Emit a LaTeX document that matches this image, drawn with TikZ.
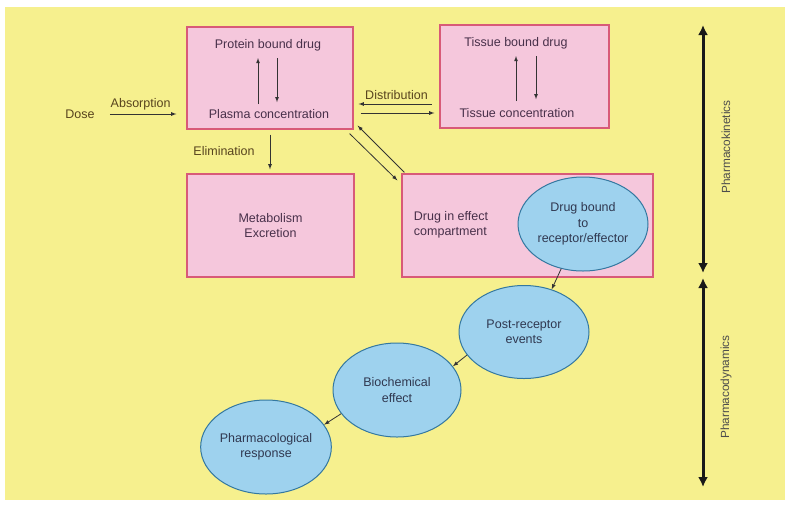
\documentclass[tikz,border=0pt]{standalone}
\usepackage{fontspec}
\setmainfont{Liberation Sans}
\usetikzlibrary{arrows, arrows.meta, shapes.geometric}

\definecolor{bgyellow}{RGB}{246,240,142}
\definecolor{boxpink}{RGB}{245,199,220}
\definecolor{boxedge}{RGB}{216,90,120}
\definecolor{cellblue}{RGB}{158,210,238}
\definecolor{celledge}{RGB}{52,120,160}
\definecolor{boxtext}{RGB}{72,48,74}
\definecolor{celltext}{RGB}{48,56,80}
\definecolor{flowtext}{RGB}{88,68,30}

\begin{document}
\begin{tikzpicture}[x=1pt, y=-1pt, >=latex,
    every node/.style={font=\fontsize{12.5}{15.5}\selectfont},
    compartment/.style={rectangle, draw=boxedge, line width=1.2pt, fill=boxpink, inner sep=0pt, align=center, text=boxtext},
    cell/.style={ellipse, draw=celledge, line width=1pt, fill=cellblue, inner sep=0pt, minimum width=130pt, minimum height=94pt, align=center, text=celltext},
    word/.style={inner sep=0pt, text=boxtext},
    flowlabel/.style={inner sep=0pt, text=flowtext},
    flow/.style={->, draw=black!80, line width=0.8pt},
    phase/.style={inner sep=0pt, rotate=90, text=black!70, font=\fontsize{11.8}{14}\selectfont},
    axis/.style={{Latex[length=10pt,width=10pt]}-{Latex[length=10pt,width=10pt]}, draw=black!90, line width=3pt}]

\useasboundingbox (0,0) rectangle (789,507);
\fill[white] (0,0) rectangle (789,507);
\fill[bgyellow] (5,7) rectangle (785,500);

% compartments
\node[compartment, minimum width=166pt, minimum height=102pt] (plasmabox) at (270,78) {};
\node[compartment, minimum width=169pt, minimum height=103pt] (tissuebox) at (524.5,76.5) {};
\node[compartment, minimum width=167pt, minimum height=103pt] (metabox) at (270.5,225.5) {Metabolism\\Excretion};
\node[compartment, minimum width=251pt, minimum height=103pt] (effectbox) at (527.5,225.5) {};

\node[word] (pbd) at (268,45) {Protein bound drug};
\node[word] (plasma) at (269,114) {Plasma concentration};
\node[word] (tbd) at (516,43) {Tissue bound drug};
\node[word] (tconc) at (517,113) {Tissue concentration};
\node[word, align=left] (effect) at (451,225) {Drug in effect\\compartment};

% receptor chain
\node[cell] (receptor) at (583,224) {Drug bound\\to\\receptor/effector};
\node[cell, minimum height=93pt] (postrec) at (524,332) {Post-receptor\\events};
\node[cell, minimum width=128pt] (biochem) at (397,390) {Biochemical\\effect};
\node[cell, minimum width=128pt] (response) at (266,447) {Pharmacological\\response};

\node[flowlabel] (dose) at (80,114) {Dose};

\draw[flow, shorten <=15pt, shorten >=10pt] (dose.east) -- (dose.east -| plasmabox.west)
    node[flowlabel, midway, above=4pt] {Absorption};
\draw[flow, <-, shorten <=5pt, shorten >=7pt] ([yshift=-26pt]plasmabox.east) -- ([yshift=-26pt]plasmabox.east -| tissuebox.west)
    node[flowlabel, midway, above=4pt] {Distribution};
\draw[flow, shorten <=7pt, shorten >=5pt] ([yshift=-35pt]plasmabox.east) -- ([yshift=-35pt]plasmabox.east -| tissuebox.west);
\draw[flow, shorten <=5pt, shorten >=4pt] (plasmabox.south) -- (plasmabox.south |- metabox.north)
    node[flowlabel, midway, left=15pt] {Elimination};

% binding inside the boxes
\draw[flow, shorten <=5pt, shorten >=7pt] ([xshift=-11pt]plasma.north) -- ([xshift=-11pt]plasma.north |- pbd.south);
\draw[flow, shorten <=7pt, shorten >=7pt] ([xshift=8pt]plasma.north |- pbd.south) -- ([xshift=8pt]plasma.north);
\draw[flow, shorten <=7pt, shorten >=7pt] ([xshift=-1pt]tconc.north) -- ([xshift=-1pt]tconc.north |- tbd.south);
\draw[flow, shorten <=7pt, shorten >=9pt] ([xshift=19pt]tconc.north |- tbd.south) -- ([xshift=19pt]tconc.north);

\draw[flow] ([xshift=-4pt,yshift=-4pt]plasmabox.south east) -- ([xshift=-4pt,yshift=-7pt]effectbox.north west);
\draw[flow] ([xshift=3pt,yshift=1pt]effectbox.north west) -- ([xshift=4pt,yshift=4pt]plasmabox.south east);

\draw[flow] (receptor.244) -- (postrec.57);
\draw[flow] (postrec.202) -- (biochem.23);
\draw[flow] (biochem.203) -- (response.21);

% phases
\coordinate (pktop) at (703,25);
\coordinate (pkbot) at (703,273);
\coordinate (pdtop) at (703,278);
\coordinate (pdbot) at (703,487);
\draw[axis] (pktop) -- (pkbot);
\draw[axis] (pdtop) -- (pdbot);
\node[phase] (pk) at (726,147) {Pharmacokinetics};
\node[phase] (pd) at (726,387) {Pharmacodynamics};

\end{tikzpicture}
\end{document}
